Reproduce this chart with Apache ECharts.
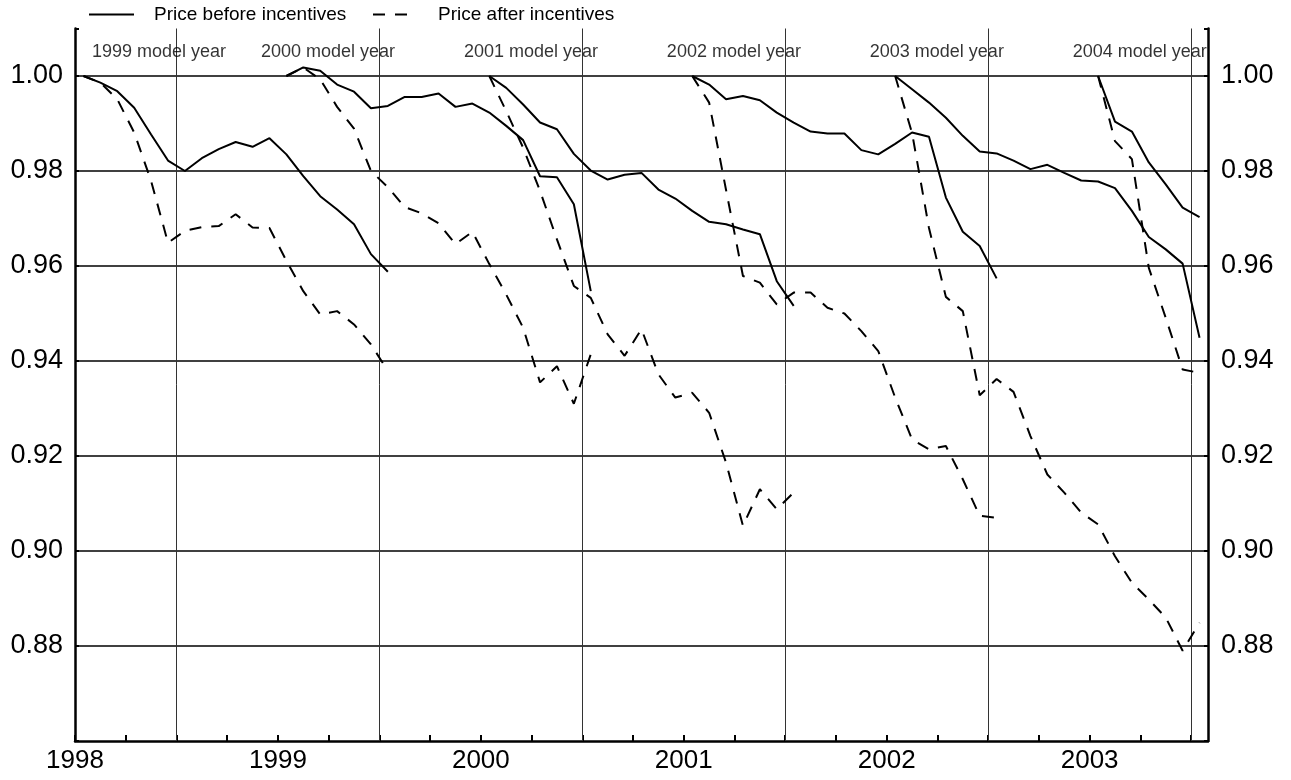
<!DOCTYPE html>
<html>
<head>
<meta charset="utf-8">
<script src="https://cdn.jsdelivr.net/npm/echarts@6/dist/echarts.min.js"></script>
<style>
  html, body { margin: 0; padding: 0; background: #fff; }
  #chart { width: 1291px; height: 780px; }
</style>
</head>
<body>
<div id="chart"></div>
<script>
// Price index of each model year (first month = 1.00), monthly from January 1998.
const yearLabels = ['1998', '1999', '2000', '2001', '2002', '2003'];
const modelYears = ['1999 model year', '2000 model year', '2001 model year',
                    '2002 model year', '2003 model year', '2004 model year'];
const startMonth = [0, 12, 24, 36, 48, 60];

const before1999 = [1.000, 0.9986, 0.9968, 0.9933, 0.9877, 0.9822, 0.9800, 0.9827, 0.9846, 0.9861,
                    0.9851, 0.9869, 0.9835, 0.9789, 0.9747, 0.9719, 0.9688, 0.9625, 0.9588];
const after1999  = [1.000, 0.9986, 0.9951, 0.9881, 0.9779, 0.9649, 0.9674, 0.9682, 0.9684, 0.9709,
                    0.9681, 0.9680, 0.9611, 0.9547, 0.9498, 0.9505, 0.9477, 0.9435, 0.9379];
const before2000 = [1.000, 1.0018, 1.0011, 0.9982, 0.9967, 0.9932, 0.9937, 0.9956, 0.9956, 0.9963,
                    0.9935, 0.9942, 0.9923, 0.9895, 0.9865, 0.9789, 0.9787, 0.9730, 0.9547];
const after2000  = [1.000, 1.0018, 0.9993, 0.9935, 0.9889, 0.9800, 0.9766, 0.9724, 0.9711, 0.9690,
                    0.9646, 0.9672, 0.9604, 0.9540, 0.9470, 0.9355, 0.9389, 0.9310, 0.9414];
const before2001 = [1.000, 0.9975, 0.9940, 0.9902, 0.9888, 0.9836, 0.9801, 0.9782, 0.9792, 0.9796,
                    0.9761, 0.9742, 0.9716, 0.9693, 0.9688, 0.9677, 0.9667, 0.9568, 0.9516];
const after2001  = [1.000, 0.9926, 0.9849, 0.9758, 0.9656, 0.9558, 0.9533, 0.9456, 0.9411, 0.9467,
                    0.9372, 0.9323, 0.9333, 0.9291, 0.9186, 0.9053, 0.9130, 0.9088, 0.9123];
const before2002 = [1.000, 0.9982, 0.9951, 0.9958, 0.9949, 0.9923, 0.9902, 0.9883, 0.9879, 0.9879,
                    0.9844, 0.9835, 0.9857, 0.9881, 0.9872, 0.9744, 0.9672, 0.9642, 0.9574];
const after2002  = [1.000, 0.9944, 0.9760, 0.9579, 0.9565, 0.9519, 0.9544, 0.9544, 0.9512, 0.9500,
                    0.9463, 0.9421, 0.9323, 0.9235, 0.9214, 0.9221, 0.9151, 0.9074, 0.9070];
const before2003 = [1.000, 0.9972, 0.9944, 0.9912, 0.9874, 0.9841, 0.9837, 0.9822, 0.9804, 0.9813,
                    0.9796, 0.9780, 0.9778, 0.9764, 0.9716, 0.9661, 0.9635, 0.9605, 0.9449];
const after2003  = [1.000, 0.9880, 0.9680, 0.9535, 0.9505, 0.9328, 0.9362, 0.9335, 0.9242, 0.9161,
                    0.9123, 0.9081, 0.9056, 0.8989, 0.8933, 0.8898, 0.8860, 0.8790, 0.8849];
const before2004 = [1.000, 0.9904, 0.9883, 0.9818, 0.9772, 0.9723, 0.9703];
const after2004  = [1.000, 0.9863, 0.9825, 0.9596, 0.9491, 0.9382, 0.9375];

const beforeSeries = [before1999, before2000, before2001, before2002, before2003, before2004];
const afterSeries  = [after1999, after2000, after2001, after2002, after2003, after2004];

// Layout constants (months since January 1998)
const julyLines = [6, 18, 30, 42, 54, 66];
const modelLabelMonth = [1, 11, 23, 35, 47, 59];
const modelLabelLevel = 1.0051;

const FONT = '"Liberation Sans", Arial, Helvetica, sans-serif';
const NAME_BEFORE = 'Price before incentives';
const NAME_AFTER = 'Price after incentives';
const DASH = [12, 10];

function toPoints(values, start) {
  return values.map((v, i) => [start + i + 0.5, v]);
}

const series = [];
beforeSeries.forEach((vals, k) => {
  series.push({
    name: NAME_BEFORE, type: 'line', data: toPoints(vals, startMonth[k]),
    symbol: 'none', clip: true, z: 5,
    lineStyle: { color: '#000', width: 2, type: 'solid' },
    itemStyle: { color: '#000' }
  });
});
afterSeries.forEach((vals, k) => {
  series.push({
    name: NAME_AFTER, type: 'line', data: toPoints(vals, startMonth[k]),
    symbol: 'none', clip: true, z: 5,
    lineStyle: { color: '#000', width: 2, type: DASH },
    itemStyle: { color: '#000' }
  });
});

// model-year captions and the vertical July lines
series.push({
  name: 'captions', type: 'scatter', symbolSize: 0, silent: true, z: 6,
  data: modelYears.map((t, k) => ({ value: [modelLabelMonth[k], modelLabelLevel], name: t })),
  label: {
    show: true, position: 'inside', align: 'left', verticalAlign: 'middle',
    formatter: p => p.name, color: '#000', fontSize: 18, fontFamily: FONT
  },
  markLine: {
    silent: true, symbol: ['none', 'none'], animation: false,
    label: { show: false },
    lineStyle: { color: '#333', width: 1, type: 'solid' },
    data: julyLines.map(m => ({ xAxis: m }))
  }
});

const fmtY = v => {
  const s = v.toFixed(2);
  return (Math.abs(v - 0.86) < 1e-6 || v > 1.005) ? '' : s;
};

const legendText = { fontSize: 19, fontFamily: FONT, color: '#000' };

const option = {
  animation: false,
  backgroundColor: '#fff',
  textStyle: { fontFamily: FONT, color: '#000' },
  legend: [
    {
      data: [{ name: NAME_BEFORE, icon: 'path://M0,0H45V2H0Z' }],
      left: 89, top: 5, padding: 0,
      itemWidth: 45, itemHeight: 2.5, selectedMode: false,
      textStyle: Object.assign({ padding: [0, 0, 0, 15] }, legendText)
    },
    {
      data: [{ name: NAME_AFTER, icon: 'path://M0,0H12V2H0Z M22,0H34V2H22Z' }],
      left: 373, top: 5, padding: 0,
      itemWidth: 34, itemHeight: 2.5, selectedMode: false,
      textStyle: Object.assign({ padding: [0, 0, 0, 26] }, legendText)
    }
  ],
  grid: { left: 75, right: 83, top: 28.5, bottom: 39, containLabel: false },
  xAxis: {
    type: 'value', min: 0, max: 67, interval: 3,
    axisLine: { show: true, onZero: false, lineStyle: { color: '#000', width: 2.5 } },
    axisTick: { show: true, inside: true, length: 6, lineStyle: { color: '#000', width: 2 } },
    axisLabel: {
      fontSize: 26, color: '#000', fontFamily: FONT, margin: 7,
      showMinLabel: true, showMaxLabel: false,
      formatter: v => (v % 12 === 0 ? yearLabels[v / 12] : '')
    },
    splitLine: { show: false }
  },
  yAxis: [
    {
      type: 'value', min: 0.86, max: 1.01, interval: 0.02, position: 'left',
      axisLine: { show: true, onZero: false, lineStyle: { color: '#000', width: 2.5 } },
      axisTick: { show: true, inside: true, length: 4, lineStyle: { color: '#000', width: 2 } },
      axisLabel: { fontSize: 27, color: '#000', fontFamily: FONT, margin: 12, formatter: fmtY },
      splitLine: { show: true, showMinLine: false, showMaxLine: false,
                   lineStyle: { color: '#000', width: 1.5 } }
    },
    {
      type: 'value', min: 0.86, max: 1.01, interval: 0.02, position: 'right',
      axisLine: { show: true, onZero: false, lineStyle: { color: '#000', width: 2.5 } },
      axisTick: { show: true, inside: true, length: 4, lineStyle: { color: '#000', width: 2 } },
      axisLabel: { fontSize: 27, color: '#000', fontFamily: FONT, margin: 13, formatter: fmtY },
      splitLine: { show: false }
    }
  ],
  series: series
};

const chart = echarts.init(document.getElementById('chart'), null, { renderer: 'canvas' });
chart.setOption(option);
</script>
</body>
</html>
